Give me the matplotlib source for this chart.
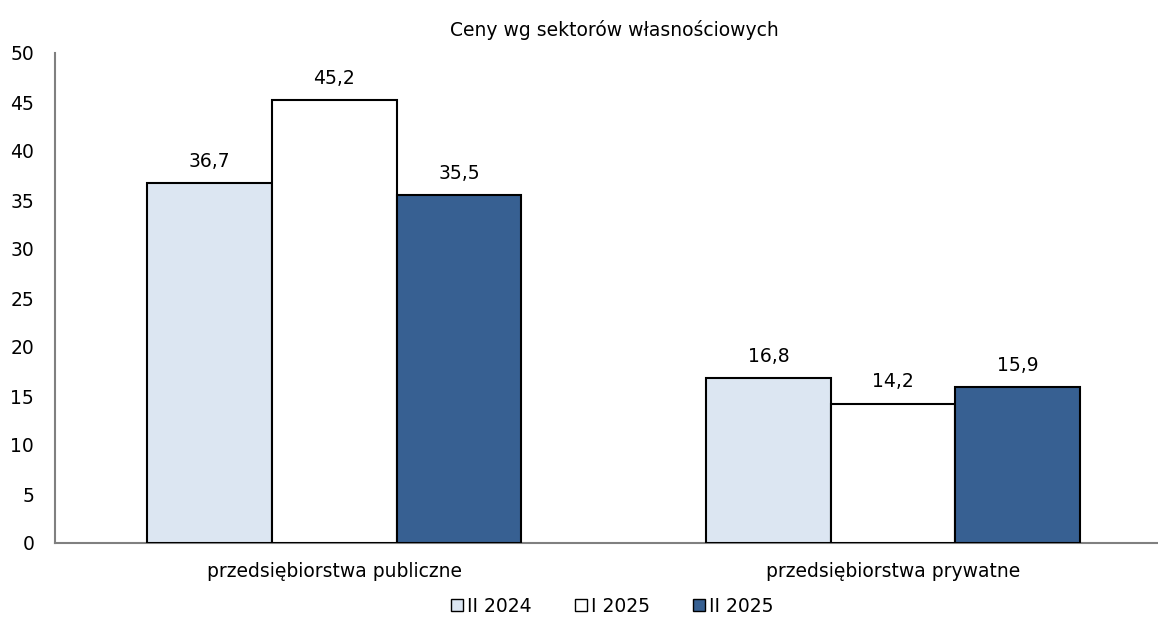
import numpy as np
import matplotlib.pyplot as plt

kategorie = ['przedsiębiorstwa publiczne', 'przedsiębiorstwa prywatne']
okresy = ['II 2024', 'I 2025', 'II 2025']
wartosci = {
    'II 2024': [36.7, 16.8],
    'I 2025': [45.2, 14.2],
    'II 2025': [35.5, 15.9],
}
kolory = ['#DCE6F2', '#FFFFFF', '#376092']
yticks = [0, 5, 10, 15, 20, 25, 30, 35, 40, 45, 50]

plt.rcParams['font.family'] = ['DejaVu Sans']

fig = plt.figure(figsize=(11.58, 6.19), dpi=100)
ax = fig.add_axes([55 / 1158, 1 - 543 / 619, 1103 / 1158, 490 / 619])

x = np.arange(len(kategorie))
szer = 0.223
for i, okres in enumerate(okresy):
    pozycje = x + (i - 1) * szer
    bary = ax.bar(pozycje, wartosci[okres], width=szer, color=kolory[i],
                  edgecolor='black', linewidth=1.5, label=okres, zorder=3)
    for b, v in zip(bary, wartosci[okres]):
        ax.annotate(f'{v:.1f}'.replace('.', ','),
                    (b.get_x() + b.get_width() / 2, b.get_height()),
                    xytext=(0, 9), textcoords='offset points',
                    ha='center', va='bottom', fontsize=13.5)

ax.set_xlim(-0.5, 1.474)
ax.set_ylim(0, 50)
ax.set_yticks(yticks)
ax.set_yticklabels([str(t) for t in yticks], fontsize=13.5)
ax.set_xticks(x)
ax.set_xticklabels(kategorie, fontsize=13.5)
ax.tick_params(axis='both', length=0)
ax.tick_params(axis='y', pad=15)
ax.tick_params(axis='x', pad=14)
for s in ['top', 'right']:
    ax.spines[s].set_visible(False)
for s in ['left', 'bottom']:
    ax.spines[s].set_color('#808080')
    ax.spines[s].set_linewidth(1.5)

fig.text(614 / 1158, 1 - 30 / 619, 'Ceny wg sektorów własnościowych',
         ha='center', va='center', fontsize=13.5)

leg = fig.legend(loc='center', bbox_to_anchor=(612 / 1158, 1 - 606 / 619),
                 ncol=3, frameon=False, fontsize=13.5, handlelength=0.65,
                 handleheight=0.65, handletextpad=0.2, columnspacing=2.3)
for h in leg.legend_handles:
    h.set_linewidth(1.0)

fig.savefig('out.png', dpi=100)
